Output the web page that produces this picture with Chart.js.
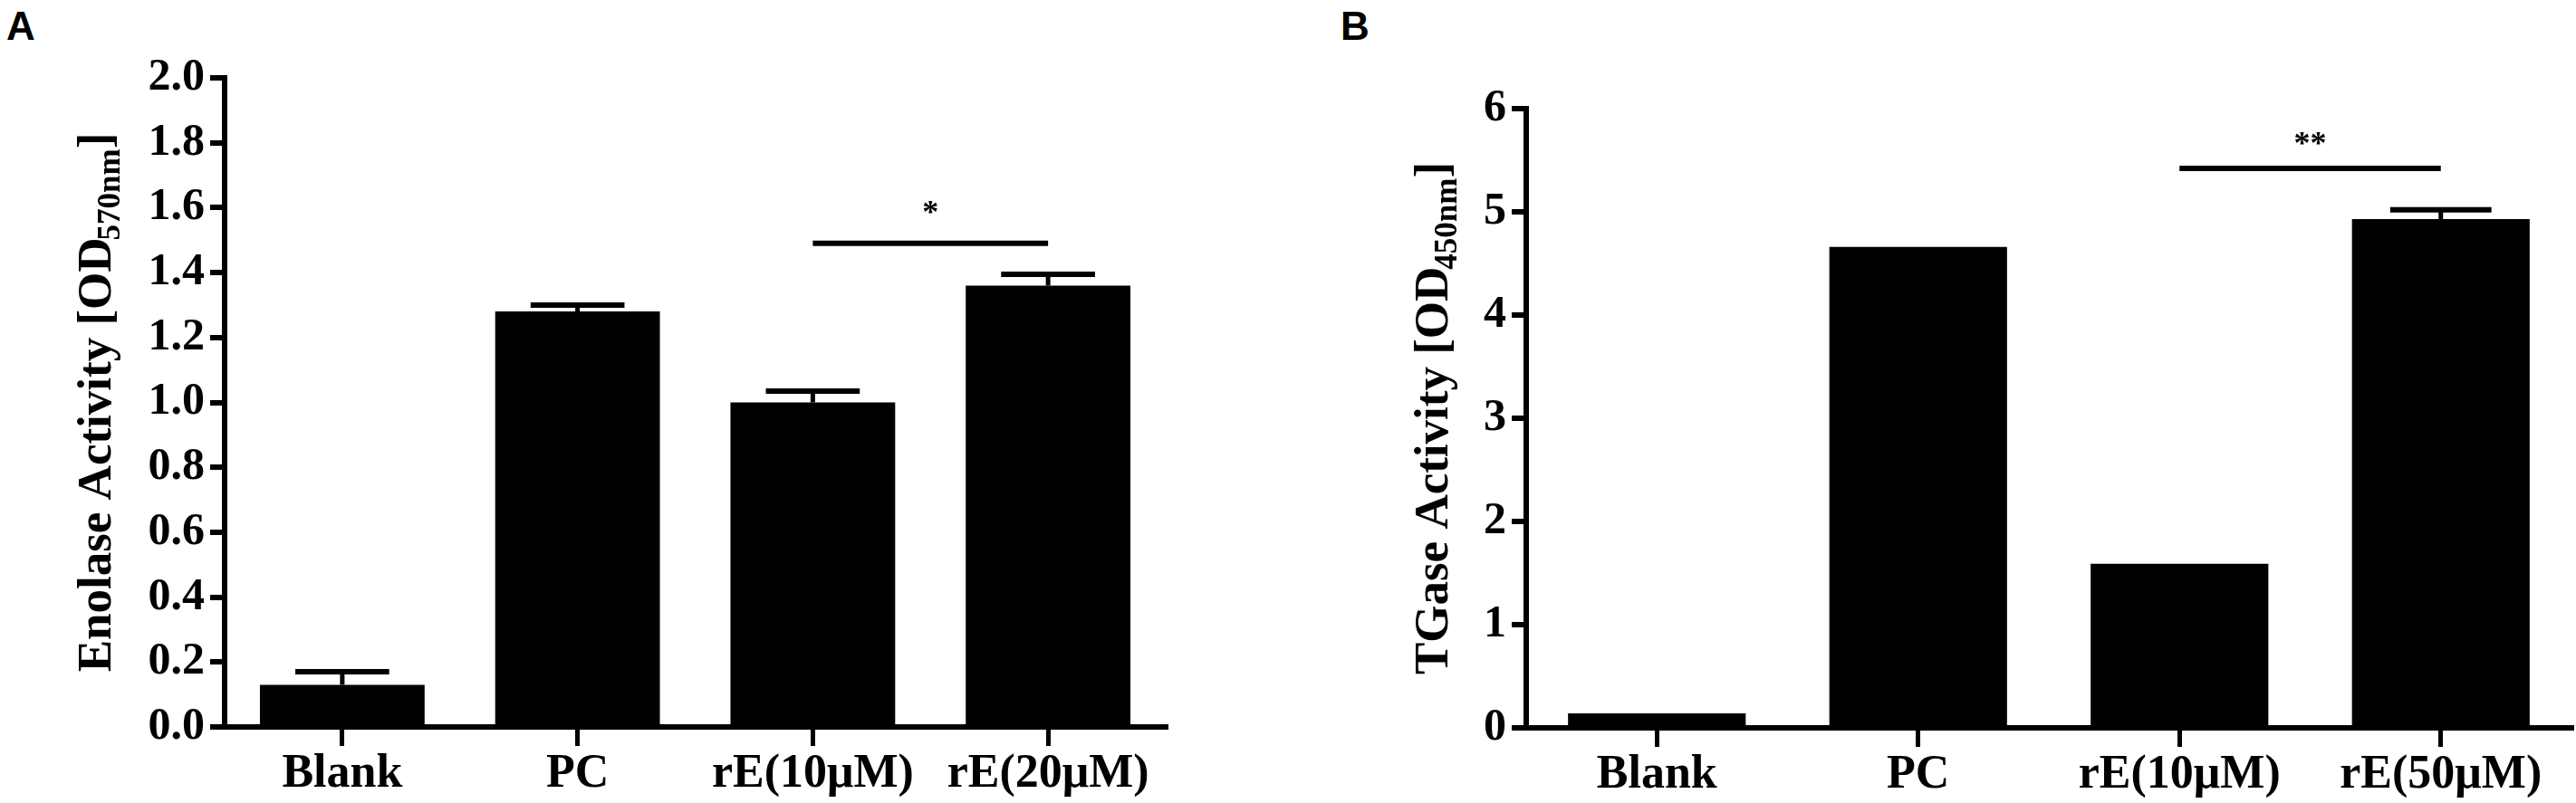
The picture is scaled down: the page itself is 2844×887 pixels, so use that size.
<!DOCTYPE html>
<html>
<head>
<meta charset="utf-8">
<title>Enolase and TGase activity</title>
<script src="https://cdn.jsdelivr.net/npm/chart.js@4.4.0/dist/chart.umd.min.js"></script>
<style>
    html, body { margin: 0; padding: 0; background: #fff; }
    body { width: 2844px; height: 887px; position: relative; overflow: hidden; }
    .panel { position: absolute; top: 0; height: 887px; }
    .letter {
        position: absolute; top: 4px; line-height: 1; color: #000;
        font: bold 44px 'Liberation Sans', Arial, sans-serif;
    }
</style>
</head>
<body>
<div class="letter" style="left:7px">A</div>
<div class="letter" style="left:1480px">B</div>
<div class="panel" style="left:0; width:1300px"><canvas id="chartA"></canvas></div>
<div class="panel" style="left:1400px; width:1444px"><canvas id="chartB"></canvas></div>

<script>
// Panel A - enolase activity
const categoriesA = ['Blank', 'PC', 'rE(10μM)', 'rE(20μM)'];
const valuesA = [0.13, 1.28, 1.00, 1.36];
const errorsA = [0.04, 0.02, 0.035, 0.035];
const sigPairA = [2, 3];
const sigLevelsA = [1.49, 1.60];   // line, star centre
const sigTextA = '*';

// Panel B - TGase activity
const categoriesB = ['Blank', 'PC', 'rE(10μM)', 'rE(50μM)'];
const valuesB = [0.14, 4.66, 1.59, 4.93];
const errorsB = [0, 0, 0, 0.09];
const sigPairB = [2, 3];
const sigLevelsB = [5.42, 5.71];
const sigTextB = '**';

const SERIF = "'Liberation Serif', 'Times New Roman', serif";

// error bars, significance bracket and the y title (with subscript)
function annotations(cfg) {
    return {
        id: 'annotations',
        afterDatasetsDraw(chart) {
            const ctx = chart.ctx;
            const yScale = chart.scales.y;
            const meta = chart.getDatasetMeta(0);

            ctx.save();
            ctx.strokeStyle = '#000';
            cfg.errors.forEach((err, i) => {
                if (!err) return;
                const bar = meta.data[i];
                const yBar = yScale.getPixelForValue(cfg.values[i]);
                const yTop = yScale.getPixelForValue(cfg.values[i] + err);
                const half = bar.width * 0.57 / 2;
                ctx.lineWidth = 5;
                ctx.beginPath();
                ctx.moveTo(bar.x, yBar);
                ctx.lineTo(bar.x, yTop);
                ctx.stroke();
                ctx.lineWidth = 6;
                ctx.beginPath();
                ctx.moveTo(bar.x - half, yTop);
                ctx.lineTo(bar.x + half, yTop);
                ctx.stroke();
            });

            const x1 = meta.data[cfg.sigPair[0]].x;
            const x2 = meta.data[cfg.sigPair[1]].x;
            const yLine = yScale.getPixelForValue(cfg.sigLevels[0]);
            ctx.lineWidth = 6;
            ctx.beginPath();
            ctx.moveTo(x1, yLine);
            ctx.lineTo(x2, yLine);
            ctx.stroke();

            ctx.fillStyle = '#000';
            ctx.font = 'bold 36px ' + SERIF;
            ctx.textAlign = 'center';
            ctx.textBaseline = 'alphabetic';
            ctx.fillText(cfg.sigText, (x1 + x2) / 2, yScale.getPixelForValue(cfg.sigLevels[1]) + 17);
            ctx.restore();
        },
        afterDraw(chart) {
            const ctx = chart.ctx;
            const area = chart.chartArea;
            const mainFont = 'bold 53px ' + SERIF;
            const subFont = 'bold 35px ' + SERIF;

            ctx.save();
            ctx.translate(cfg.titleX, (area.top + area.bottom) / 2);
            ctx.rotate(-Math.PI / 2);
            ctx.fillStyle = '#000';
            ctx.textAlign = 'left';
            ctx.textBaseline = 'alphabetic';

            ctx.font = mainFont;
            const w1 = ctx.measureText(cfg.title[0]).width;
            const w3 = ctx.measureText(cfg.title[2]).width;
            ctx.font = subFont;
            const w2 = ctx.measureText(cfg.title[1]).width;
            let x = -(w1 + w2 + w3 - 3) / 2;

            ctx.font = mainFont;
            ctx.fillText(cfg.title[0], x, 0);
            x += w1 - 3;
            ctx.font = subFont;
            ctx.fillText(cfg.title[1], x, 10);
            x += w2;
            ctx.font = mainFont;
            ctx.fillText(cfg.title[2], x, 0);
            ctx.restore();
        }
    };
}

function buildChart(id, cfg) {
    return new Chart(document.getElementById(id), {
        type: 'bar',
        data: {
            labels: cfg.labels,
            datasets: [{
                data: cfg.values,
                backgroundColor: '#000',
                borderWidth: 0,
                barPercentage: cfg.barPct,
                categoryPercentage: 1
            }]
        },
        options: {
            responsive: true,
            maintainAspectRatio: false,
            animation: false,
            layout: { padding: { top: cfg.padTop, right: cfg.padRight, bottom: 0, left: 0 } },
            plugins: {
                legend: { display: false },
                tooltip: { enabled: false }
            },
            scales: {
                x: {
                    grid: { display: true, drawOnChartArea: false, offset: false, tickLength: 21, lineWidth: 5, tickColor: '#000' },
                    border: { display: true, color: '#000', width: 6 },
                    ticks: {
                        color: '#000',
                        font: { family: SERIF, size: 52, weight: 'bold' },
                        padding: 0,
                        maxRotation: 0,
                        autoSkip: false
                    },
                    afterFit: (scale) => { scale.height = cfg.xHeight; }
                },
                y: {
                    min: 0,
                    max: cfg.yMax,
                    grid: { drawOnChartArea: false, tickLength: 16, lineWidth: 6, tickColor: '#000' },
                    border: { display: true, color: '#000', width: 6 },
                    ticks: {
                        stepSize: cfg.step,
                        color: '#000',
                        font: { family: SERIF, size: 50, weight: 'bold' },
                        padding: 6,
                        callback: (v) => cfg.fmt(v)
                    },
                    afterFit: (scale) => { scale.width = cfg.yWidth; }
                }
            }
        },
        plugins: [annotations(cfg)]
    });
}

document.addEventListener('DOMContentLoaded', () => {
    buildChart('chartA', {
        labels: categoriesA, values: valuesA, errors: errorsA,
        sigPair: sigPairA, sigLevels: sigLevelsA, sigText: sigTextA,
        title: ['Enolase Activity [OD', '570nm', ']'], titleX: 122,
        yMax: 2.0, step: 0.2, fmt: (v) => v.toFixed(1),
        barPct: 0.7, padTop: 86, padRight: 13, xHeight: 84, yWidth: 248
    });
    buildChart('chartB', {
        labels: categoriesB, values: valuesB, errors: errorsB,
        sigPair: sigPairB, sigLevels: sigLevelsB, sigText: sigTextB,
        title: ['TGase Activity [OD', '450nm', ']'], titleX: 198,
        yMax: 6, step: 1, fmt: (v) => String(v),
        barPct: 0.68, padTop: 120, padRight: 5, xHeight: 83, yWidth: 285
    });
});
</script>
</body>
</html>
